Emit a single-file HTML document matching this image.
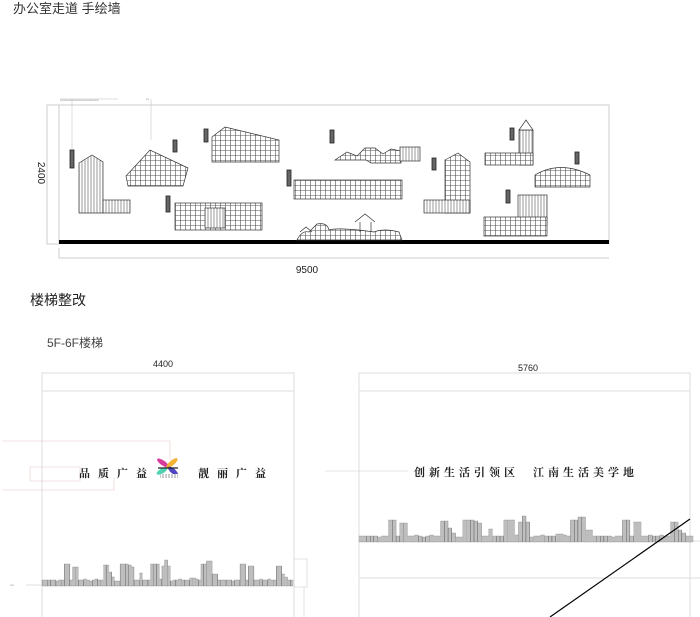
<!DOCTYPE html>
<html><head><meta charset="utf-8"><style>
html,body{margin:0;padding:0;background:#fff;}
body{width:700px;height:617px;overflow:hidden;position:relative;font-family:"Liberation Sans","Noto Sans CJK SC",sans-serif;}
svg{position:absolute;left:0;top:0;}
</style></head><body>
<svg width="700" height="617" viewBox="0 0 700 617" xmlns="http://www.w3.org/2000/svg">
<defs>
<pattern id="v" width="3" height="3" patternUnits="userSpaceOnUse"><rect width="3" height="3" fill="#fff"/><line x1="1" y1="0" x2="1" y2="3" stroke="#555" stroke-width="0.6"/></pattern>
<pattern id="vb" width="2" height="3" patternUnits="userSpaceOnUse"><rect width="2" height="3" fill="#fff"/><line x1="1" y1="0" x2="1" y2="3" stroke="#444" stroke-width="0.7"/></pattern>
<pattern id="g" width="5" height="5" patternUnits="userSpaceOnUse"><rect width="5" height="5" fill="#fff"/><path d="M0 0.5H5M0.5 0V5" stroke="#555" stroke-width="0.6"/></pattern>
</defs>
<g font-family="Liberation Sans, Noto Sans CJK SC, sans-serif">
<text x="13" y="13" font-size="13" fill="#333">办公室走道 手绘墙</text>
<!-- top wall -->
<rect x="59" y="105" width="550" height="138" fill="none" stroke="#ccc" stroke-width="1"/>
<rect x="59" y="240" width="550" height="4" fill="#000"/>
<path d="M59 105H47V244H59" fill="none" stroke="#ccc"/>
<text x="38" y="173" font-size="10" transform="rotate(90 38 173)" text-anchor="middle" fill="#222">2400</text>
<path d="M59 248V258H609" fill="none" stroke="#ccc"/>
<text x="307" y="273" font-size="10" text-anchor="middle" fill="#222">9500</text>
<path d="M60 99H118M72 99V150M151 99V140" stroke="#bbb" stroke-width="0.5" fill="none"/>
<text x="60" y="101" font-size="2.5" fill="#888">xxxxxxxxxxxxxxxxxxxxxxxxxxxxxxx</text>
<text x="146" y="100" font-size="3" fill="#888">xx</text>
<!-- tags -->
<g fill="#666" stroke="#222" stroke-width="0.8">
<rect x="70" y="150" width="4" height="18"/><rect x="173" y="140" width="4" height="12"/><rect x="204" y="129" width="4" height="13"/>
<rect x="166" y="196" width="4" height="16"/><rect x="330" y="130" width="4" height="13"/><rect x="287" y="170" width="4" height="16"/>
<rect x="432" y="158" width="4" height="12"/><rect x="510" y="128" width="4" height="12"/><rect x="575" y="152" width="4" height="12"/><rect x="506" y="190" width="4" height="13"/>
</g>
<!-- buildings -->
<g stroke="#333" stroke-width="0.7">
<polygon points="79,163 92,155 103,162 103,213 79,213" fill="url(#v)"/>
<rect x="103" y="200" width="27" height="13" fill="url(#v)"/>
<polygon points="126,176 150,150 188,168 183,186 128,186" fill="url(#g)"/>
<polygon points="212,137 225,127 279,140 279,162 212,162" fill="url(#g)"/>
<rect x="175" y="203" width="87" height="27" fill="url(#g)"/>
<rect x="205" y="208" width="20" height="20" fill="url(#v)"/>
<path d="M335 160 l12 -8 l10 4 l8 -8 l10 0 l8 6 l8 -5 l10 2 v12 h-30 l-5 -3 z" fill="url(#g)"/>
<rect x="400" y="147" width="20" height="14" fill="url(#v)"/>
<rect x="294" y="180" width="108" height="19" fill="url(#g)"/>
<polygon points="445,160 458,153 470,162 470,213 445,213" fill="url(#g)"/>
<rect x="424" y="200" width="46" height="13" fill="url(#v)"/>
<path d="M297 240 q5 -10 12 -8 l8 -8 q10 -2 12 6 q10 -3 45 2 q10 -4 25 0 l3 8 z" fill="url(#g)"/>
<path d="M355 222 l10 -8 l10 8 M360 222 v10 M371 222 v10 M300 232 l6 -5 l6 5" fill="none"/>
<rect x="519" y="130" width="14" height="35" fill="url(#v)"/>
<polygon points="519,130 526,120 533,130" fill="#fff"/>
<rect x="485" y="153" width="48" height="12" fill="url(#g)"/>
<path d="M535 187 v-12 q25 -15 55 0 v12 z" fill="url(#g)"/>
<rect x="518" y="195" width="29" height="30" fill="url(#v)"/>
<rect x="484" y="217" width="63" height="19" fill="url(#g)"/>
</g>
<!-- section 2 -->
<text x="30" y="305" font-size="14" fill="#222">楼梯整改</text>
<text x="47" y="347" font-size="12" fill="#444">5F-6F楼梯</text>
<text x="163" y="367" font-size="9" text-anchor="middle" fill="#222">4400</text>
<rect x="42" y="373" width="252" height="250" fill="none" stroke="#ddd"/>
<line x1="42" y1="391" x2="294" y2="391" stroke="#ddd"/>
<path d="M2 441H170V460M2 490H114V478M30 467H80V481H30Z" fill="none" stroke="#e8c8c8" stroke-width="0.6"/>
<g font-family="Liberation Serif, Noto Serif CJK SC, serif" font-size="11" fill="#222" font-weight="bold">
<text x="79" y="477" letter-spacing="8">品质广益</text>
<text x="198" y="477" letter-spacing="8">靓丽广益</text>
</g>
<g>
<ellipse cx="163" cy="463" rx="7" ry="2.5" fill="#d63c9c" transform="rotate(35 163 463)"/>
<ellipse cx="172" cy="463" rx="7" ry="2.5" fill="#f2b233" transform="rotate(-40 172 463)"/>
<ellipse cx="162" cy="471" rx="6" ry="2.5" fill="#4fd3b0" transform="rotate(-30 162 471)"/>
<ellipse cx="173" cy="471" rx="6" ry="2.5" fill="#5046c4" transform="rotate(40 173 471)"/>
<path d="M158 468 L178 468" stroke="#222" stroke-width="1.2"/>
<rect x="160" y="474" width="18" height="4" fill="url(#v)"/>
</g>
<g id="sky1"></g>
<path d="M294 559H307V587H294M304 587V617" fill="none" stroke="#ccc" stroke-width="0.6"/>
<text x="10" y="586" font-size="2.5" fill="#888">xxx</text>
<line x1="26" y1="585" x2="42" y2="585" stroke="#ddd"/>
<text x="528" y="371" font-size="9" text-anchor="middle" fill="#222">5760</text>
<rect x="359" y="373" width="331" height="250" fill="none" stroke="#ddd"/>
<line x1="359" y1="391" x2="690" y2="391" stroke="#ddd"/>
<line x1="325" y1="471" x2="408" y2="471" stroke="#ccc" stroke-width="0.6"/>
<line x1="359" y1="578" x2="700" y2="578" stroke="#ddd"/>
<path d="M690 541H700" stroke="#ddd"/>
<g font-family="Liberation Serif, Noto Serif CJK SC, serif" font-size="11" fill="#222" font-weight="bold">
<text x="414" y="476" letter-spacing="4">创新生活引领区</text>
<text x="533" y="476" letter-spacing="4">江南生活美学地</text>
</g>
<g id="sky2"></g>
<line x1="690" y1="519" x2="550" y2="617" stroke="#000" stroke-width="1.2"/>
</g>
</svg>
<script>
function sky(id,x0,x1,base,scale){
 var h=[6,6,6,6,6,5,6,6,22,22,6,19,19,6,6,7,6,5,6,7,6,6,21,21,14,9,5,5,22,22,22,21,19,6,6,13,6,6,6,22,22,22,7,20,26,20,5,6,6,7,6,6,6,8,8,7,6,22,22,25,25,12,12,6,6,6,6,6,5,6,6,22,22,6,20,20,6,6,7,6,6,7,6,6,20,20,12,9,6,6];
 var g=document.getElementById(id),n=h.length,w=(x1-x0)/n,s='';
 for(var i=0;i<n;i++){var hh=h[i]*scale;s+='<rect x="'+(x0+i*w).toFixed(2)+'" y="'+(base-hh).toFixed(2)+'" width="'+(w).toFixed(2)+'" height="'+hh.toFixed(2)+'" fill="url(#vb)" stroke="#777" stroke-width="0.3"/>';}
 g.innerHTML=s;
}
sky('sky1',42,293,586,1);
sky('sky2',359,693,542,1);
</script>
</body></html>
